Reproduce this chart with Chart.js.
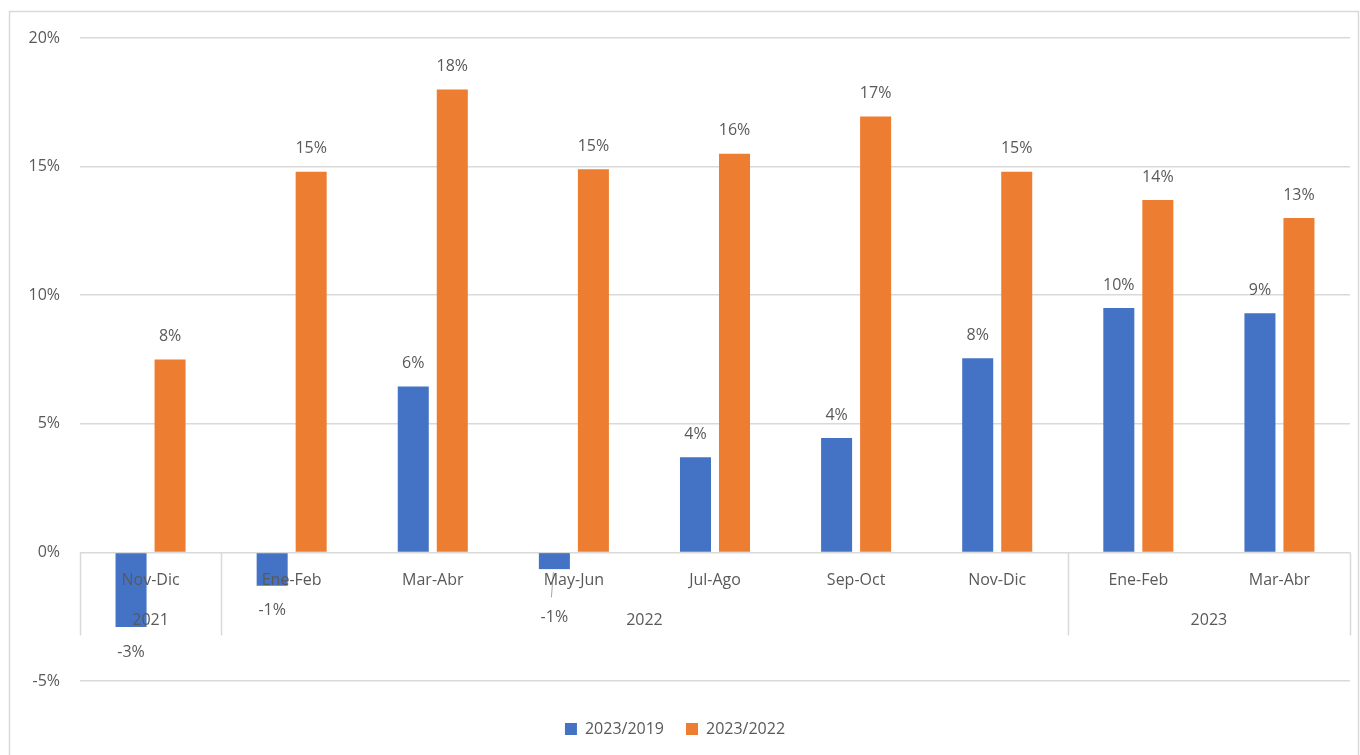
<!DOCTYPE html>
<html><head><meta charset="utf-8">
<script src="https://cdn.jsdelivr.net/npm/chart.js@4.4.1/dist/chart.umd.min.js"></script>
<style>html,body{margin:0;padding:0;background:#fff;overflow:hidden}#wrap{position:absolute;left:0;top:0;width:1360px;height:755px}</style>
</head><body><div id="wrap"><canvas id="c" width="1360" height="755"></canvas></div>
<script>
const categories = ['Nov-Dic','Ene-Feb','Mar-Abr','May-Jun','Jul-Ago','Sep-Oct','Nov-Dic','Ene-Feb','Mar-Abr'];
const yearLabels = ['2021','2022','2023'];
const yearSpans = [1, 6, 2];
const seriesNames = ['2023/2019','2023/2022'];
const values2019 = [-2.9, -1.3, 6.45, -0.65, 3.7, 4.45, 7.55, 9.5, 9.3];
const values2022 = [7.5, 14.8, 18.0, 14.9, 15.5, 16.95, 14.8, 13.7, 13.0];
const yTicks = [-5, 0, 5, 10, 15, 20];

const FONT = '"Open Sans", "Liberation Sans", sans-serif';
const TXT = '#595959';
const GRID = '#d9d9d9';

const framePlugin = {
  id: 'frame',
  beforeDraw(chart) {
    const ctx = chart.ctx;
    ctx.save();
    ctx.fillStyle = '#fff';
    ctx.fillRect(0, 0, chart.width, chart.height);
    ctx.strokeStyle = GRID;
    ctx.lineWidth = 1.5;
    ctx.strokeRect(9.5, 11.5, 1349, 800);
    ctx.restore();
  }
};

const labelsPlugin = {
  id: 'labelsPlugin',
  afterDatasetsDraw(chart) {
    const ctx = chart.ctx;
    const xs = chart.scales.x, ys = chart.scales.y;
    const y0 = ys.getPixelForValue(0);
    ctx.save();
    ctx.font = '16px ' + FONT;
    ctx.fillStyle = TXT;
    ctx.textAlign = 'center';
    ctx.textBaseline = 'middle';
    chart.data.datasets.forEach((ds, di) => {
      const meta = chart.getDatasetMeta(di);
      meta.data.forEach((bar, i) => {
        const v = ds.data[i];
        const txt = Math.round(v) + '%';
        if (v >= 0) {
          ctx.fillText(txt, bar.x, bar.y - 23);
        } else {
          let ly = bar.y + 25;
          if (ly < y0 + 50) {
            // avoid the category label: move below it with a leader line
            ly = y0 + 65;
            ctx.save();
            ctx.strokeStyle = '#a6a6a6';
            ctx.lineWidth = 1;
            ctx.beginPath();
            ctx.moveTo(bar.x - 1, bar.y + 3);
            ctx.lineTo(bar.x - 3, ly - 20);
            ctx.stroke();
            ctx.restore();
          }
          ctx.fillText(txt, bar.x, ly);
        }
      });
    });
    categories.forEach((c, i) => {
      ctx.fillText(c, xs.getPixelForValue(i), y0 + 28);
    });
    const half = (xs.getPixelForValue(1) - xs.getPixelForValue(0)) / 2;
    ctx.strokeStyle = GRID;
    ctx.lineWidth = 1.5;
    let start = 0;
    const bounds = [xs.getPixelForValue(0) - half];
    yearSpans.forEach((span, k) => {
      const end = start + span - 1;
      const cx = (xs.getPixelForValue(start) + xs.getPixelForValue(end)) / 2;
      ctx.fillText(yearLabels[k], cx, y0 + 68);
      bounds.push(xs.getPixelForValue(end) + half);
      start += span;
    });
    bounds.forEach(bx => {
      ctx.beginPath();
      ctx.moveTo(Math.round(bx) + 0.5, y0);
      ctx.lineTo(Math.round(bx) + 0.5, y0 + 83);
      ctx.stroke();
    });
    ctx.restore();
  }
};

new Chart(document.getElementById('c'), {
  type: 'bar',
  data: {
    labels: categories,
    datasets: [
      { label: seriesNames[0], data: values2019, backgroundColor: '#4472C4', categoryPercentage: 0.553, barPercentage: 0.795 },
      { label: seriesNames[1], data: values2022, backgroundColor: '#ED7D31', categoryPercentage: 0.553, barPercentage: 0.795 }
    ]
  },
  options: {
    responsive: false,
    devicePixelRatio: 1,
    animation: false,
    layout: { padding: { top: 38, right: 10, bottom: 8, left: 0 } },
    scales: {
      x: {
        display: true,
        grid: { display: false },
        border: { display: false },
        ticks: { display: false },
        afterFit(scale) { scale.height = 18; }
      },
      y: {
        min: -5, max: 20,
        afterBuildTicks(scale) { scale.ticks = yTicks.map(v => ({ value: v })); },
        afterFit(scale) { scale.width = 80; },
        border: { display: false },
        grid: { color: GRID, lineWidth: 1.5, drawTicks: false },
        ticks: { padding: 20, color: TXT, font: { size: 16, family: FONT }, callback: v => v + '%' }
      }
    },
    plugins: {
      legend: {
        position: 'bottom',
        labels: { boxWidth: 12, boxHeight: 12, padding: 22, color: TXT, font: { size: 16, family: FONT } }
      },
      tooltip: { enabled: false }
    }
  },
  plugins: [framePlugin, labelsPlugin]
});
</script>
</body></html>
